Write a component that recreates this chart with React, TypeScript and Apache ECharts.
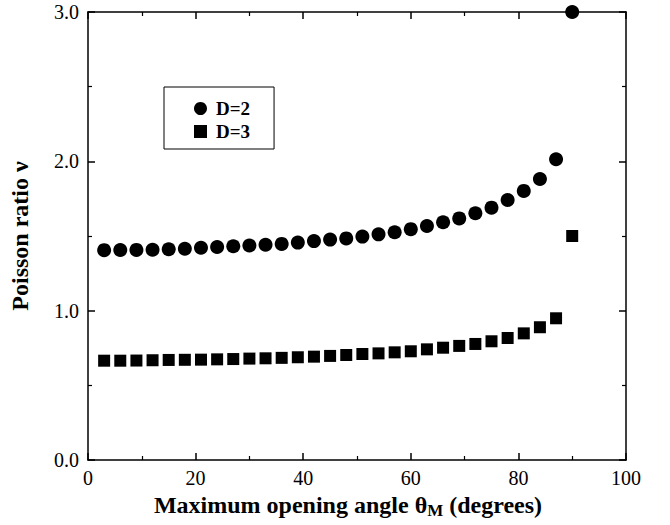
import React, { useEffect, useRef } from "react";
import * as echarts from "echarts";

const angles = [3, 6, 9, 12, 15, 18, 21, 24, 27, 30, 33, 36, 39, 42, 45, 48, 51, 54, 57, 60, 63, 66, 69, 72, 75, 78, 81, 84, 87, 90];
const nuD2 = [1.405, 1.406, 1.407, 1.408, 1.411, 1.415, 1.421, 1.426, 1.431, 1.436, 1.441, 1.447, 1.456, 1.466, 1.476, 1.484, 1.496, 1.511, 1.525, 1.546, 1.567, 1.592, 1.618, 1.652, 1.690, 1.741, 1.802, 1.882, 2.014, 3.0];
const nuD3 = [0.665, 0.665, 0.666, 0.668, 0.670, 0.671, 0.672, 0.674, 0.676, 0.679, 0.681, 0.684, 0.688, 0.692, 0.697, 0.703, 0.710, 0.714, 0.721, 0.728, 0.741, 0.752, 0.764, 0.777, 0.795, 0.817, 0.848, 0.889, 0.949, 1.50];
const seriesNames = ["D=2", "D=3"];
const xTicks = [0, 20, 40, 60, 80, 100];
const yTicks = [0, 1, 2, 3];

const FONT = '"Liberation Serif", "Times New Roman", serif';

export default function App() {
  const ref = useRef<HTMLDivElement>(null);
  useEffect(() => {
    if (!ref.current) return;
    const chart = echarts.init(ref.current, null, { renderer: "svg" });
    const axisLine = { show: true, onZero: false, lineStyle: { color: "#000", width: 1.5 } };
    const tick = { show: true, inside: true, length: 7, lineStyle: { color: "#000", width: 1.5 } };
    const minor = { show: true, splitNumber: 2, length: 4, lineStyle: { color: "#000", width: 1.2 } };
    chart.setOption({
      animation: false,
      backgroundColor: "#fff",
      textStyle: { fontFamily: FONT },
      grid: { left: 88, right: 44, top: 12, bottom: 65, containLabel: false },
      legend: {
        show: true,
        orient: "vertical",
        left: 164,
        top: 87,
        data: seriesNames,
        borderColor: "#000",
        borderWidth: 1,
        padding: [12, 24, 8, 30],
        itemGap: 4,
        itemWidth: 13,
        itemHeight: 13,
        itemStyle: { opacity: 1 },
        textStyle: { fontFamily: FONT, fontWeight: "bold", fontSize: 19, color: "#000", padding: [0, 0, 0, 4] },
      },
      xAxis: [
        {
          type: "value",
          min: xTicks[0],
          max: xTicks[xTicks.length - 1],
          interval: 20,
          position: "bottom",
          axisLine,
          axisTick: tick,
          minorTick: minor,
          splitLine: { show: false },
          axisLabel: { fontFamily: FONT, fontSize: 20, color: "#000", margin: 8 },
          name: "Maximum opening angle θ{sub|M} (degrees)",
          nameLocation: "middle",
          nameGap: 24,
          nameTextStyle: {
            fontFamily: FONT,
            fontWeight: "bold",
            fontSize: 24,
            color: "#000",
            padding: [0, 18, 0, 0],
            rich: {
              sub: { fontFamily: FONT, fontWeight: "bold", fontSize: 17, color: "#000", padding: [12, 0, 0, 0] },
            },
          },
        },
        {
          type: "value",
          min: xTicks[0],
          max: xTicks[xTicks.length - 1],
          interval: 20,
          position: "top",
          axisLine,
          axisTick: tick,
          minorTick: minor,
          splitLine: { show: false },
          axisLabel: { show: false },
        },
      ],
      yAxis: [
        {
          type: "value",
          min: yTicks[0],
          max: yTicks[yTicks.length - 1],
          interval: 1,
          position: "left",
          axisLine,
          axisTick: tick,
          minorTick: minor,
          splitLine: { show: false },
          axisLabel: { fontFamily: FONT, fontSize: 20, color: "#000", margin: 9, formatter: (v: number) => v.toFixed(1) },
          name: "Poisson ratio ν",
          nameLocation: "middle",
          nameGap: 56,
          nameRotate: 90,
          nameTextStyle: { fontFamily: FONT, fontWeight: "bold", fontSize: 24, color: "#000" },
        },
        {
          type: "value",
          min: yTicks[0],
          max: yTicks[yTicks.length - 1],
          interval: 1,
          position: "right",
          axisLine,
          axisTick: tick,
          minorTick: minor,
          splitLine: { show: false },
          axisLabel: { show: false },
        },
      ],
      series: [
        {
          name: seriesNames[0],
          type: "scatter",
          symbol: "circle",
          symbolSize: 14,
          itemStyle: { color: "#000", opacity: 1 },
          data: angles.map((a, i) => [a, nuD2[i]]),
        },
        {
          name: seriesNames[1],
          type: "scatter",
          symbol: "rect",
          symbolSize: 12,
          itemStyle: { color: "#000", opacity: 1 },
          data: angles.map((a, i) => [a, nuD3[i]]),
        },
      ],
    });
    return () => chart.dispose();
  }, []);
  return <div ref={ref} style={{ width: 670, height: 525, position: "absolute", left: 0, top: 0 }} />;
}
